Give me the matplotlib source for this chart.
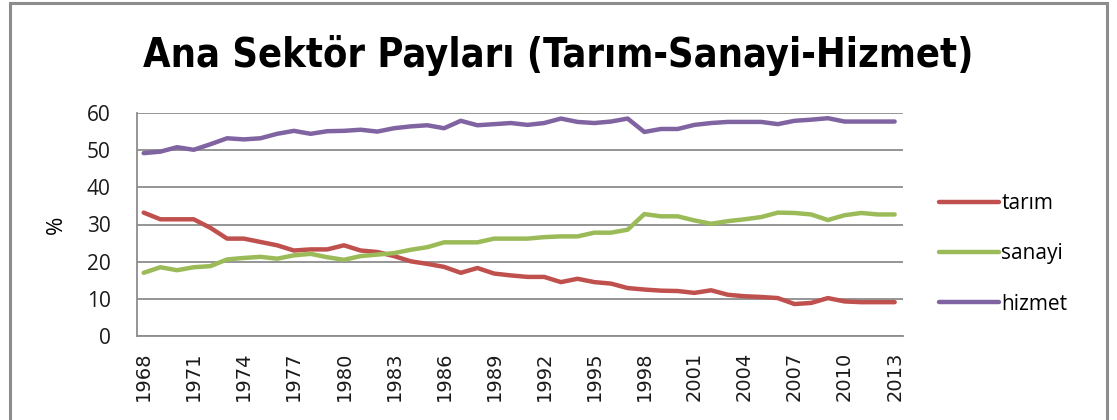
import numpy as np
import matplotlib
matplotlib.use("Agg")
import matplotlib.pyplot as plt
from matplotlib.patches import Rectangle

years = list(range(1968, 2014))

tarim = [33.2, 31.4, 31.4, 31.4, 29.1, 26.2, 26.2, 25.3, 24.4, 23.0, 23.3, 23.3,
         24.4, 23.0, 22.6, 21.5, 20.1, 19.4, 18.6, 17.0, 18.3, 16.8, 16.3,
         15.9, 15.9, 14.5, 15.4, 14.5, 14.1, 12.9, 12.5, 12.2, 12.1, 11.6, 12.3,
         11.1, 10.7, 10.5, 10.2, 8.6, 8.9, 10.2, 9.3, 9.1, 9.1, 9.1]

sanayi = [17.0, 18.5, 17.7, 18.5, 18.8, 20.6, 21.0, 21.3, 20.8, 21.7, 22.1, 21.2,
          20.5, 21.5, 21.9, 22.3, 23.2, 23.9, 25.2, 25.2, 25.2, 26.2, 26.2,
          26.2, 26.6, 26.8, 26.8, 27.8, 27.8, 28.6, 32.8, 32.2, 32.2, 31.1, 30.2,
          30.9, 31.4, 32.0, 33.2, 33.1, 32.7, 31.2, 32.5, 33.1, 32.7, 32.7]

hizmet = [49.2, 49.6, 50.8, 50.1, 51.6, 53.2, 52.9, 53.2, 54.4, 55.2, 54.4, 55.1,
          55.2, 55.5, 55.0, 55.9, 56.4, 56.7, 55.9, 57.9, 56.7, 57.0, 57.3,
          56.8, 57.3, 58.5, 57.6, 57.3, 57.7, 58.5, 54.9, 55.7, 55.7, 56.8, 57.3,
          57.6, 57.6, 57.6, 57.0, 57.9, 58.2, 58.6, 57.7, 57.7, 57.7, 57.7]

series_names = ["tarım", "sanayi", "hizmet"]
colors = ["#C0504D", "#9BBB59", "#8064A2"]
title = "Ana Sektör Payları (Tarım-Sanayi-Hizmet)"

fig = plt.figure(figsize=(11.17, 4.2), dpi=100)
ax = fig.add_axes([137 / 1117, 84 / 420, 766 / 1117, 223 / 420])

for vals, name, c in zip([tarim, sanayi, hizmet], series_names, colors):
    ax.plot(years, vals, color=c, lw=3.2, label=name, solid_capstyle="round")

ax.set_xlim(1967.6, 2013.5)
ax.set_ylim(0, 60)
ax.set_yticks(range(0, 61, 10))
ax.set_xticks(years[::3])
ax.set_xticklabels([str(y) for y in years[::3]], rotation=90,
                   fontsize=14, family="DejaVu Sans", color="#1a1a1a")
for lab in ax.get_yticklabels():
    lab.set_fontsize(15)
    lab.set_family(["Open Sans", "DejaVu Sans"])
    lab.set_color("#1a1a1a")
ax.tick_params(axis="x", length=0, pad=11)
ax.tick_params(axis="y", length=0, pad=19)
ax.grid(axis="y", color="#8c8c8c", lw=1.3)
ax.set_axisbelow(True)
for s in ["top", "right"]:
    ax.spines[s].set_visible(False)
for s in ["left", "bottom"]:
    ax.spines[s].set_color("#8c8c8c")
    ax.spines[s].set_linewidth(1.3)

ax.set_ylabel("%", fontsize=16, family=["Open Sans", "DejaVu Sans"], labelpad=14)

leg = fig.legend(loc="center left", bbox_to_anchor=(920 / 1117, 1 - 254 / 420),
                 frameon=False, handlelength=2.9, handletextpad=0.1,
                 labelspacing=1.4, prop={"family": ["Open Sans", "DejaVu Sans"], "size": 15})

fig.text(0.5, 1 - 56 / 420, title, ha="center", va="center", fontsize=28.5,
         family="DejaVu Sans", fontweight="bold", fontstretch="condensed")

fig.patches.append(Rectangle((10 / 1117, -0.1), 1097 / 1117, 1.1 - 3 / 420,
                             transform=fig.transFigure, fill=False,
                             edgecolor="#8c8c8c", lw=2.2))

fig.savefig("out.png", dpi=100)
